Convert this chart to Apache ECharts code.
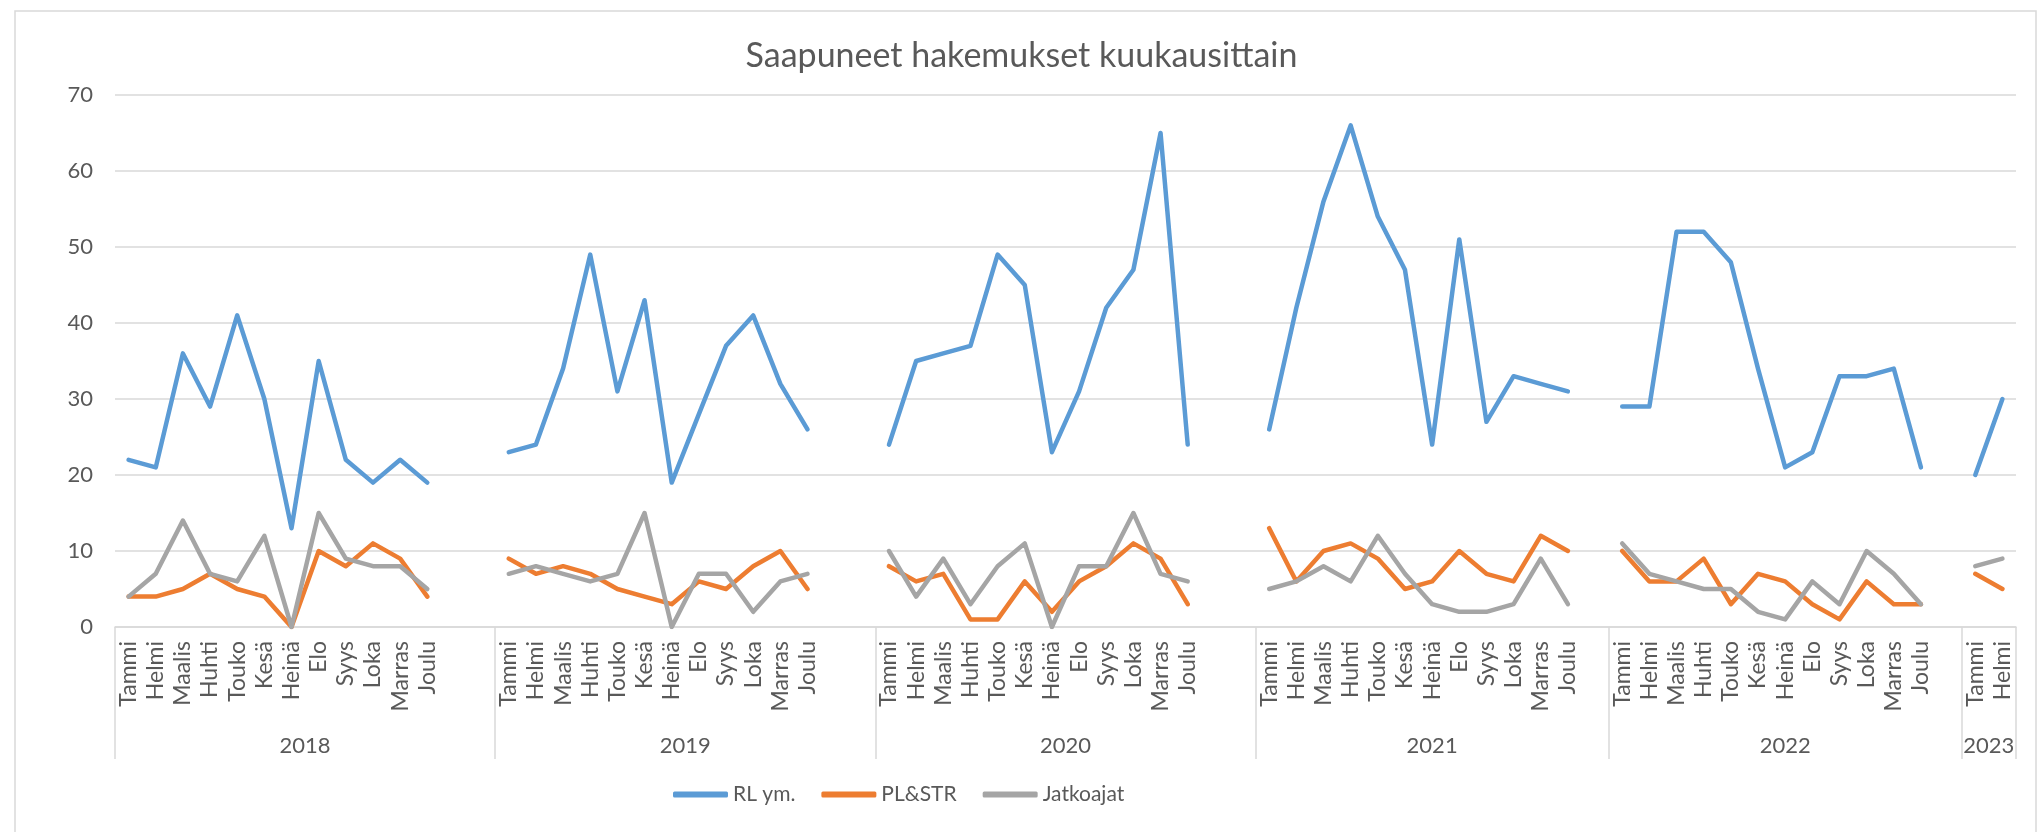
<!DOCTYPE html>
<html>
<head>
<meta charset="utf-8">
<script src="https://cdn.jsdelivr.net/npm/echarts@6/dist/echarts.min.js"></script>
<style>
  html, body { margin: 0; padding: 0; background: #fff; }
  #chart { width: 2043px; height: 832px; }
</style>
</head>
<body>
<div id="chart"></div>
<script>
// ---- data ----
const title = 'Saapuneet hakemukset kuukausittain';
const months = ['Tammi','Helmi','Maalis','Huhti','Touko','Kesä','Heinä','Elo','Syys','Loka','Marras','Joulu'];
const years = ['2018','2019','2020','2021','2022','2023'];
const monthsPerYear = [12, 12, 12, 12, 12, 2];
const blanksAfterYear = [2, 2, 2, 1, 1, 0];
const seriesNames = ['RL ym.', 'PL&STR', 'Jatkoajat'];

const rlValues = [
  22,21,36,29,41,30,13,35,22,19,22,19,
  23,24,34,49,31,43,19,28,37,41,32,26,
  24,35,36,37,49,45,23,31,42,47,65,24,
  26,42,56,66,54,47,24,51,27,33,32,31,
  29,29,52,52,48,34,21,23,33,33,34,21,
  20,30
];
const plValues = [
  4,4,5,7,5,4,0,10,8,11,9,4,
  9,7,8,7,5,4,3,6,5,8,10,5,
  8,6,7,1,1,6,2,6,8,11,9,3,
  13,6,10,11,9,5,6,10,7,6,12,10,
  10,6,6,9,3,7,6,3,1,6,3,3,
  7,5
];
const jaValues = [
  4,7,14,7,6,12,0,15,9,8,8,5,
  7,8,7,6,7,15,0,7,7,2,6,7,
  10,4,9,3,8,11,0,8,8,15,7,6,
  5,6,8,6,12,7,3,2,2,3,9,3,
  11,7,6,5,5,2,1,6,3,10,7,3,
  8,9
];

// ---- build category axis (months + blank slots between years) ----
const categories = [];
const groupStarts = [];
function spread(values) {
  const out = [];
  let k = 0;
  years.forEach((y, yi) => {
    for (let m = 0; m < monthsPerYear[yi]; m++) out.push(values[k++]);
    for (let b = 0; b < blanksAfterYear[yi]; b++) out.push(null);
  });
  return out;
}
years.forEach((y, yi) => {
  groupStarts.push(categories.length);
  for (let m = 0; m < monthsPerYear[yi]; m++) categories.push(months[m]);
  for (let b = 0; b < blanksAfterYear[yi]; b++) categories.push('');
});
const nCat = categories.length;
// half-step axis for year labels and group separators
const halfCats = new Array(2 * nCat + 1).fill('');
const boundaryIdx = new Set();
years.forEach((y, yi) => {
  const start = groupStarts[yi];
  const end = yi + 1 < years.length ? groupStarts[yi + 1] : nCat;
  boundaryIdx.add(2 * start);
  boundaryIdx.add(2 * end);
  halfCats[start + end] = y;
});

const FONT = 'Lato, "Open Sans", sans-serif';
const TXT = '#595959';
const GRID = '#D9D9D9';
const colors = ['#5B9BD5', '#ED7D31', '#A5A5A5'];

const chart = echarts.init(document.getElementById('chart'), null, { renderer: 'canvas' });
chart.setOption({
  animation: false,
  color: colors,
  textStyle: { fontFamily: FONT },
  title: {
    text: title,
    left: 'center',
    top: 34,
    textStyle: { fontFamily: FONT, fontSize: 34, fontWeight: 'normal', color: TXT }
  },
  graphic: [{
    type: 'rect',
    shape: { x: 15, y: 11, width: 2021, height: 900 },
    style: { fill: 'none', stroke: GRID, lineWidth: 1.5 },
    silent: true
  }],
  legend: {
    left: 668,
    top: 779,
    icon: 'roundRect',
    itemWidth: 55,
    itemHeight: 6,
    itemGap: 26,
    textStyle: { fontFamily: FONT, fontSize: 21, color: TXT },
    data: seriesNames
  },
  grid: { left: 115, right: 27, top: 95, bottom: 205, containLabel: false, outerBoundsMode: 'none' },
  xAxis: [{
    type: 'category',
    data: categories,
    boundaryGap: true,
    position: 'bottom',
    axisLine: { show: true, lineStyle: { color: GRID, width: 1.5 } },
    axisTick: { show: false },
    splitLine: { show: false },
    axisLabel: {
      interval: 0, rotate: 90, margin: 14, hideOverlap: false,
      fontFamily: FONT, fontSize: 23, color: TXT
    }
  }, {
    type: 'category',
    data: halfCats,
    boundaryGap: false,
    position: 'bottom',
    offset: 0,
    axisLine: { show: false },
    axisTick: {
      show: true, length: 132,
      interval: (i) => boundaryIdx.has(i),
      lineStyle: { color: GRID, width: 1.5 }
    },
    splitLine: { show: false },
    axisLabel: {
      interval: 0, margin: 108, hideOverlap: false,
      fontFamily: FONT, fontSize: 22, color: TXT
    }
  }],
  yAxis: {
    type: 'value',
    min: 0, max: 70, interval: 10,
    axisLine: { show: false },
    axisTick: { show: false },
    splitLine: { show: true, lineStyle: { color: GRID, width: 1.5 } },
    axisLabel: { margin: 22, fontFamily: FONT, fontSize: 22, color: TXT }
  },
  series: [rlValues, plValues, jaValues].map((vals, i) => ({
    name: seriesNames[i],
    type: 'line',
    xAxisIndex: 0,
    data: spread(vals),
    symbol: 'none',
    showSymbol: false,
    connectNulls: false,
    lineStyle: { width: 4.5, color: colors[i], cap: 'round', join: 'round' },
    itemStyle: { color: colors[i] }
  }))
});
</script>
</body>
</html>
